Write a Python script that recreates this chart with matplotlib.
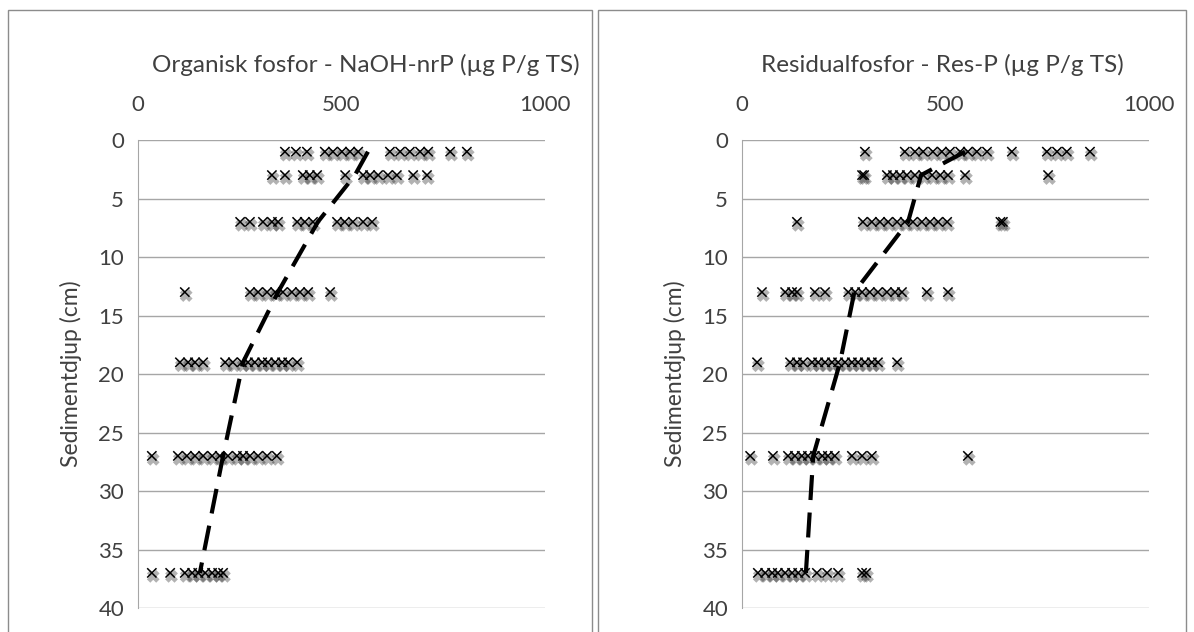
import matplotlib
matplotlib.use("Agg")
import matplotlib.pyplot as plt
import matplotlib.patheffects as pe
from matplotlib.patches import Rectangle

plt.rcParams['font.family'] = ['Lato', 'DejaVu Sans']

depths = [1, 3, 7, 13, 19, 27, 37]

# Organisk fosfor - NaOH-nrP, per depth
org_p = [
    [361, 388, 415, 459, 479, 501, 521, 541, 619, 644, 668, 693, 713, 767, 808],
    [329, 361, 405, 422, 440, 509, 553, 570, 590, 614, 636, 676, 710],
    [251, 275, 307, 329, 344, 391, 410, 430, 489, 508, 528, 553, 575],
    [115, 275, 295, 317, 337, 356, 378, 398, 418, 472],
    [103, 123, 140, 160, 214, 233, 255, 270, 287, 305, 319, 337, 354, 369, 391],
    [34, 98, 120, 140, 160, 182, 201, 221, 243, 258, 275, 295, 317, 341],
    [34, 79, 115, 133, 148, 165, 182, 197, 209],
]
org_mean = [565, 533, 442, 344, 258, 209, 152]

# Residualfosfor - Res-P, per depth
res_p = [
    [302, 400, 425, 445, 469, 491, 511, 536, 555, 577, 602, 663, 749, 774, 798, 855],
    [295, 300, 356, 371, 388, 405, 425, 445, 467, 487, 506, 548, 752],
    [135, 297, 319, 339, 359, 381, 400, 420, 442, 462, 482, 504, 635, 641],
    [49, 106, 123, 135, 179, 204, 261, 278, 295, 314, 334, 356, 376, 393, 454, 506],
    [37, 118, 135, 150, 172, 187, 204, 221, 236, 253, 270, 285, 302, 319, 334, 381],
    [20, 76, 113, 130, 147, 162, 179, 197, 211, 228, 270, 295, 319, 555],
    [39, 57, 74, 88, 106, 123, 138, 155, 184, 209, 236, 295, 305],
]
res_mean = [548, 440, 408, 276, 241, 175, 157]

titles = ["Organisk fosfor - NaOH-nrP (µg P/g TS)", "Residualfosfor - Res-P (µg P/g TS)"]
xticks = [0, 500, 1000]
yticks = [0, 5, 10, 15, 20, 25, 30, 35, 40]

W, H = 1194, 632
fig = plt.figure(figsize=(W / 100, H / 100), dpi=100)

# panel frames
for x0, x1 in [(8, 592), (598, 1186)]:
    fig.patches.append(Rectangle((x0 / W, -0.1), (x1 - x0) / W, (H - 10) / H + 0.1,
                                 transform=fig.transFigure, fill=False,
                                 edgecolor='#8c8c8c', lw=1))

panels = [(org_p, org_mean, 138, 366), (res_p, res_mean, 742, 942)]
for i, (vals, mean, left, tx) in enumerate(panels):
    ax = fig.add_axes([left / W, 24 / H, 407 / W, 468 / H])
    xs, ys = [], []
    for d, row in zip(depths, vals):
        xs += row
        ys += [d] * len(row)
    ax.scatter(xs, ys, marker='x', c='black', s=45, linewidths=1.1, zorder=3,
               path_effects=[pe.SimpleLineShadow(offset=(1, -2.5), shadow_color='black', alpha=0.3, linewidth=3.5),
                             pe.Normal()])
    ax.plot(mean, depths, color='black', lw=3, dashes=(6, 3), zorder=4)
    ax.set_xlim(0, 1000)
    ax.set_ylim(40, 0)
    ax.set_xticks(xticks)
    ax.set_yticks(yticks)
    ax.xaxis.tick_top()
    ax.tick_params(length=0, labelsize=16, colors='#404040', pad=10)
    ax.tick_params(axis='x', pad=18)
    ax.grid(axis='y', color='#a6a6a6', lw=1)
    ax.set_axisbelow(True)
    for s in ['right', 'bottom', 'top']:
        ax.spines[s].set_visible(False)
    ax.spines['left'].set_color('#a6a6a6')
    ax.set_ylabel('Sedimentdjup (cm)', fontsize=16.5, color='#404040', labelpad=12)
    fig.text(tx / W, 1 - 65 / H, titles[i], ha='center', va='center',
             fontsize=17.5, color='#404040')

fig.savefig('out.png', dpi=100)
